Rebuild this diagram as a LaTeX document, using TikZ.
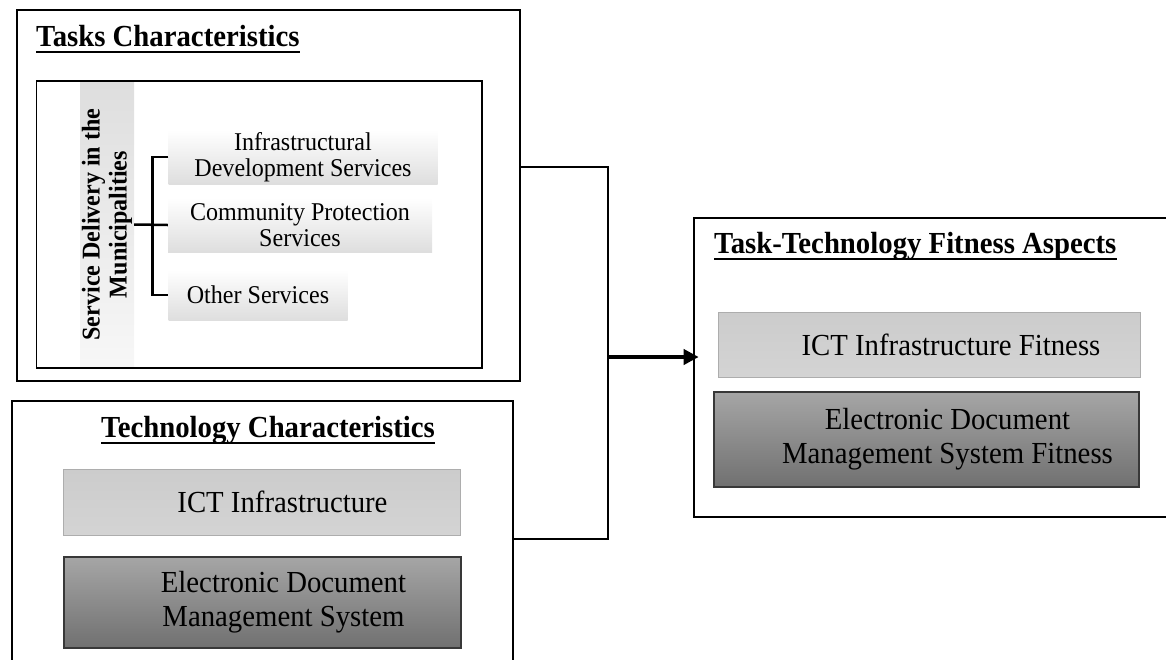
\documentclass[tikz,border=0pt]{standalone}
\usepackage{fontspec}
\setmainfont[FakeStretch=0.94]{Liberation Serif}
\usetikzlibrary{arrows.meta}

\begin{document}
\begin{tikzpicture}[x=1pt,y=-1pt,
	frame/.style={draw,line width=2.6pt,inner sep=0pt},
	title/.style={anchor=base west,inner sep=0pt,font=\fontsize{30.6}{35}\selectfont\bfseries},
	light/.style={draw=black!32,line width=1pt,top color=black!20,bottom color=black!17,inner sep=0pt},
	dark/.style={draw=black!78,line width=1.3pt,top color=black!35,bottom color=black!56,inner sep=0pt},
	boxtext/.style={align=center,font=\fontsize{30.6}{34}\selectfont},
	strip/.style={rotate=90,minimum width=287pt,minimum height=54pt,inner sep=0pt,top color=black!13,bottom color=black!3,align=center,font=\fontsize{25.6}{27}\selectfont\bfseries},
	item/.style={top color=white,middle color=white,bottom color=black!13,inner sep=0pt,align=center,font=\fontsize{25.6}{25.5}\selectfont},
	brace/.style={line width=2.5pt},
	link/.style={line width=2.6pt},
	flow/.style={line width=4.5pt,-{Triangle[length=15pt,width=15pt]}}]
\useasboundingbox (0,0) rectangle (1166,659);

% tasks side
\node[frame,minimum width=503pt,minimum height=371pt] (tasks) at (268.5,195.5) {};
\node[title] (tasksttl) at (36,46) {Tasks Characteristics};
\node[strip] (sdm) at (107,224.5) {Service Delivery in the\\Municipalities};
\node[draw,line width=1.5pt,minimum width=445.5pt,minimum height=287pt] (svcbox) at (259.25,224.5) {};
\foreach \name/\cx/\cy/\bw/\bh/\txt in {itemA/303/157/269/54/{Infrastructural\\Development Services},itemB/300/225/264/54/{Community Protection\\Services},itemC/258/295/179/50/{Other Services}}
{
	\node[item,minimum width=\bw,minimum height=\bh] (\name) at (\cx,\cy) {\txt};
}
\draw[brace] (itemA.west) -- ++(-16,0) |- (itemC.west);
\draw[brace] (sdm.south) -- (itemB.west);

% technology side
\node[frame,minimum width=501pt,minimum height=276pt] (tech) at (262.5,539) {};
\node[title] (techttl) at (101,437) {Technology Characteristics};
\node[light,minimum width=397pt,minimum height=66pt,label={[boxtext,xshift=21pt]center:ICT Infrastructure}] (ict) at (261.5,502) {};
\node[dark,minimum width=397pt,minimum height=91pt,label={[boxtext,xshift=21pt]center:Electronic Document\\Management System}] (edms) at (262.5,602.5) {};

% fitness
\node[frame,minimum width=496pt,minimum height=299pt] (fit) at (942,367.5) {};
\node[title] (fitttl) at (714,253) {Task-Technology Fitness Aspects};
\node[light,minimum width=422pt,minimum height=65pt,label={[boxtext,xshift=22pt]center:ICT Infrastructure Fitness}] (ictfit) at (929,344.5) {};
\node[dark,minimum width=425pt,minimum height=95pt,label={[boxtext,xshift=21pt]center:Electronic Document\\Management System Fitness}] (edmsfit) at (926.5,439.5) {};

\foreach \t in {tasksttl,techttl,fitttl}
{
	\draw[line width=1.8pt] ([yshift=-5.7pt]\t.base west) -- ([yshift=-5.7pt]\t.base east);
}

% connectors
\coordinate (join) at (608,357);
\draw[link] ([yshift=28.5pt]tasks.east) -| (join);
\draw[link] (tech.east) -| (join);
\draw[flow] (join) -- ([yshift=10.5pt,xshift=6pt]fit.west);
\end{tikzpicture}
\end{document}
